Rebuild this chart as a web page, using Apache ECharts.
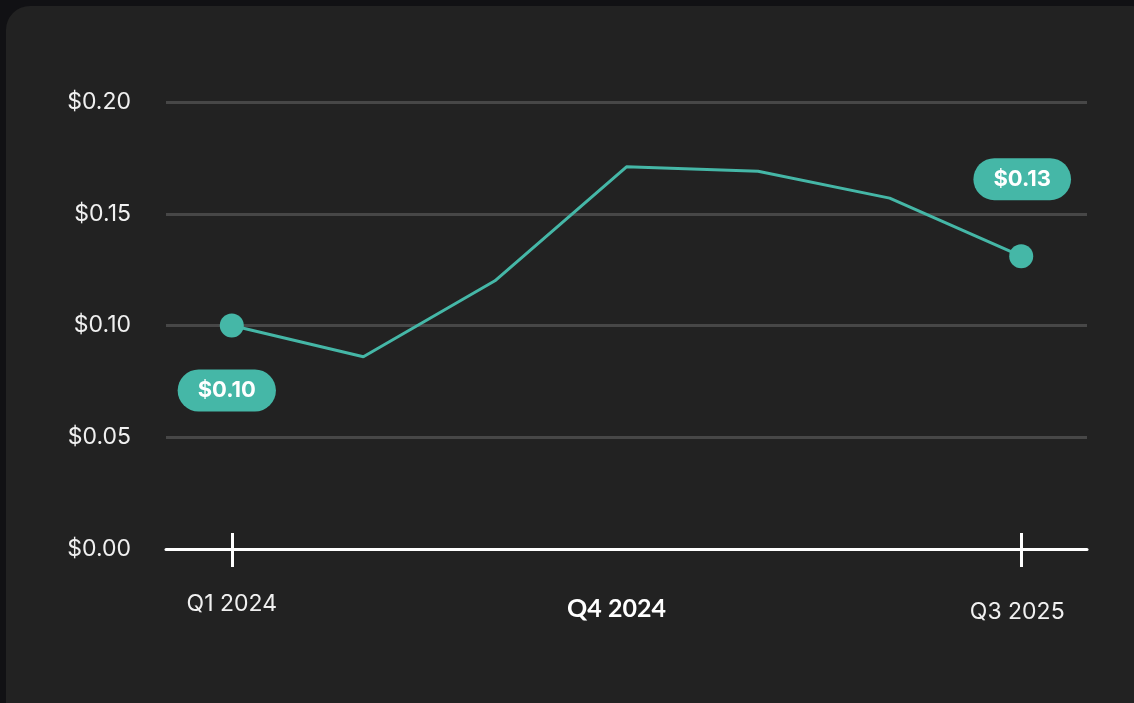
<!DOCTYPE html>
<html>
<head>
<meta charset="utf-8">
<script src="https://cdn.jsdelivr.net/npm/echarts@6/dist/echarts.min.js"></script>
<style>
  html, body { margin: 0; padding: 0; width: 1134px; height: 703px; overflow: hidden; background: #111114; }
  #card { position: absolute; left: 6px; top: 6px; width: 1150px; height: 740px; background: #222222; border-radius: 24px; }
  #chart { position: absolute; left: 0; top: 0; width: 1134px; height: 703px; }
</style>
</head>
<body>
<div id="card"></div>
<div id="chart"></div>
<script>
const categories = ['Q1 2024', 'Q2 2024', 'Q3 2024', 'Q4 2024', 'Q1 2025', 'Q2 2025', 'Q3 2025'];
const epsValues = [0.100, 0.086, 0.120, 0.171, 0.169, 0.157, 0.131];
const shownLabels = ['Q1 2024', 'Q4 2024', 'Q3 2025'];
const boldLabel = 'Q4 2024';
const highlightIndexes = [0, 6];
const yTicks = [0, 0.05, 0.10, 0.15, 0.20];

const teal = '#45b7a7';
const chart = echarts.init(document.getElementById('chart'));

const seriesData = epsValues.map((v, i) => {
  const item = { value: v };
  if (i === 0) {
    item.symbolSize = 24;
    item.label = { show: true, position: 'bottom', distance: 32, offset: [-5, 0] };
  } else if (i === epsValues.length - 1) {
    item.symbolSize = 24;
    item.label = { show: true, position: 'top', distance: 44, offset: [1, 0] };
  } else {
    item.symbolSize = 0;
  }
  return item;
});

const tickIdx = (idx) => highlightIndexes.includes(idx);

chart.setOption({
  backgroundColor: 'transparent',
  animation: false,
  grid: { left: 166, right: 47, top: 102, bottom: 154 },
  xAxis: [
    {
      type: 'category',
      data: categories,
      boundaryGap: true,
      position: 'bottom',
      axisLine: { show: true, lineStyle: { color: '#ffffff', width: 3 } },
      axisTick: { show: true, alignWithLabel: true, inside: false, length: 18, interval: tickIdx, lineStyle: { color: '#ffffff', width: 3 } },
      axisLabel: {
        interval: 0,
        margin: 44,
        formatter: (v) => {
          if (!shownLabels.includes(v)) return '';
          if (v === boldLabel) return '{b|' + v + '}';
          if (v === categories[categories.length - 1]) return '{c|' + v + '}';
          return '{a|' + v + '}';
        },
        rich: {
          a: { fontFamily: 'Inter', fontSize: 23, color: '#f0f0f0', padding: [0, 0, 0, 0] },
          b: { fontFamily: 'Lato', fontWeight: 'bold', fontSize: 25, color: '#ffffff', padding: [3, 20, 0, 0] },
          c: { fontFamily: 'Inter', fontSize: 23, color: '#f0f0f0', padding: [8, 8, 0, 0] }
        }
      },
      splitLine: { show: false }
    },
    {
      type: 'category',
      data: categories,
      boundaryGap: true,
      position: 'bottom',
      axisLine: { show: false },
      axisTick: { show: true, alignWithLabel: true, inside: true, length: 16, interval: tickIdx, lineStyle: { color: '#ffffff', width: 3 } },
      axisLabel: { show: false }
    }
  ],
  yAxis: {
    type: 'value',
    min: yTicks[0],
    max: yTicks[yTicks.length - 1],
    interval: 0.05,
    axisLine: { show: false },
    axisTick: { show: false },
    axisLabel: {
      margin: 35,
      fontFamily: 'Inter',
      fontSize: 23,
      color: '#f0f0f0',
      formatter: (v) => '$' + v.toFixed(2)
    },
    splitLine: { show: true, lineStyle: { color: '#474747', width: 3 } }
  },
  series: [{
    type: 'line',
    xAxisIndex: 0,
    data: seriesData,
    symbol: 'circle',
    showSymbol: true,
    lineStyle: { color: teal, width: 3 },
    itemStyle: { color: teal },
    z: 5,
    label: {
      show: false,
      formatter: (p) => '$' + p.value.toFixed(2),
      fontFamily: 'Inter',
      fontWeight: 'bold',
      fontSize: 22,
      color: '#ffffff',
      backgroundColor: teal,
      borderRadius: 22,
      padding: [10, 20, 10, 20]
    }
  }]
});
</script>
</body>
</html>
